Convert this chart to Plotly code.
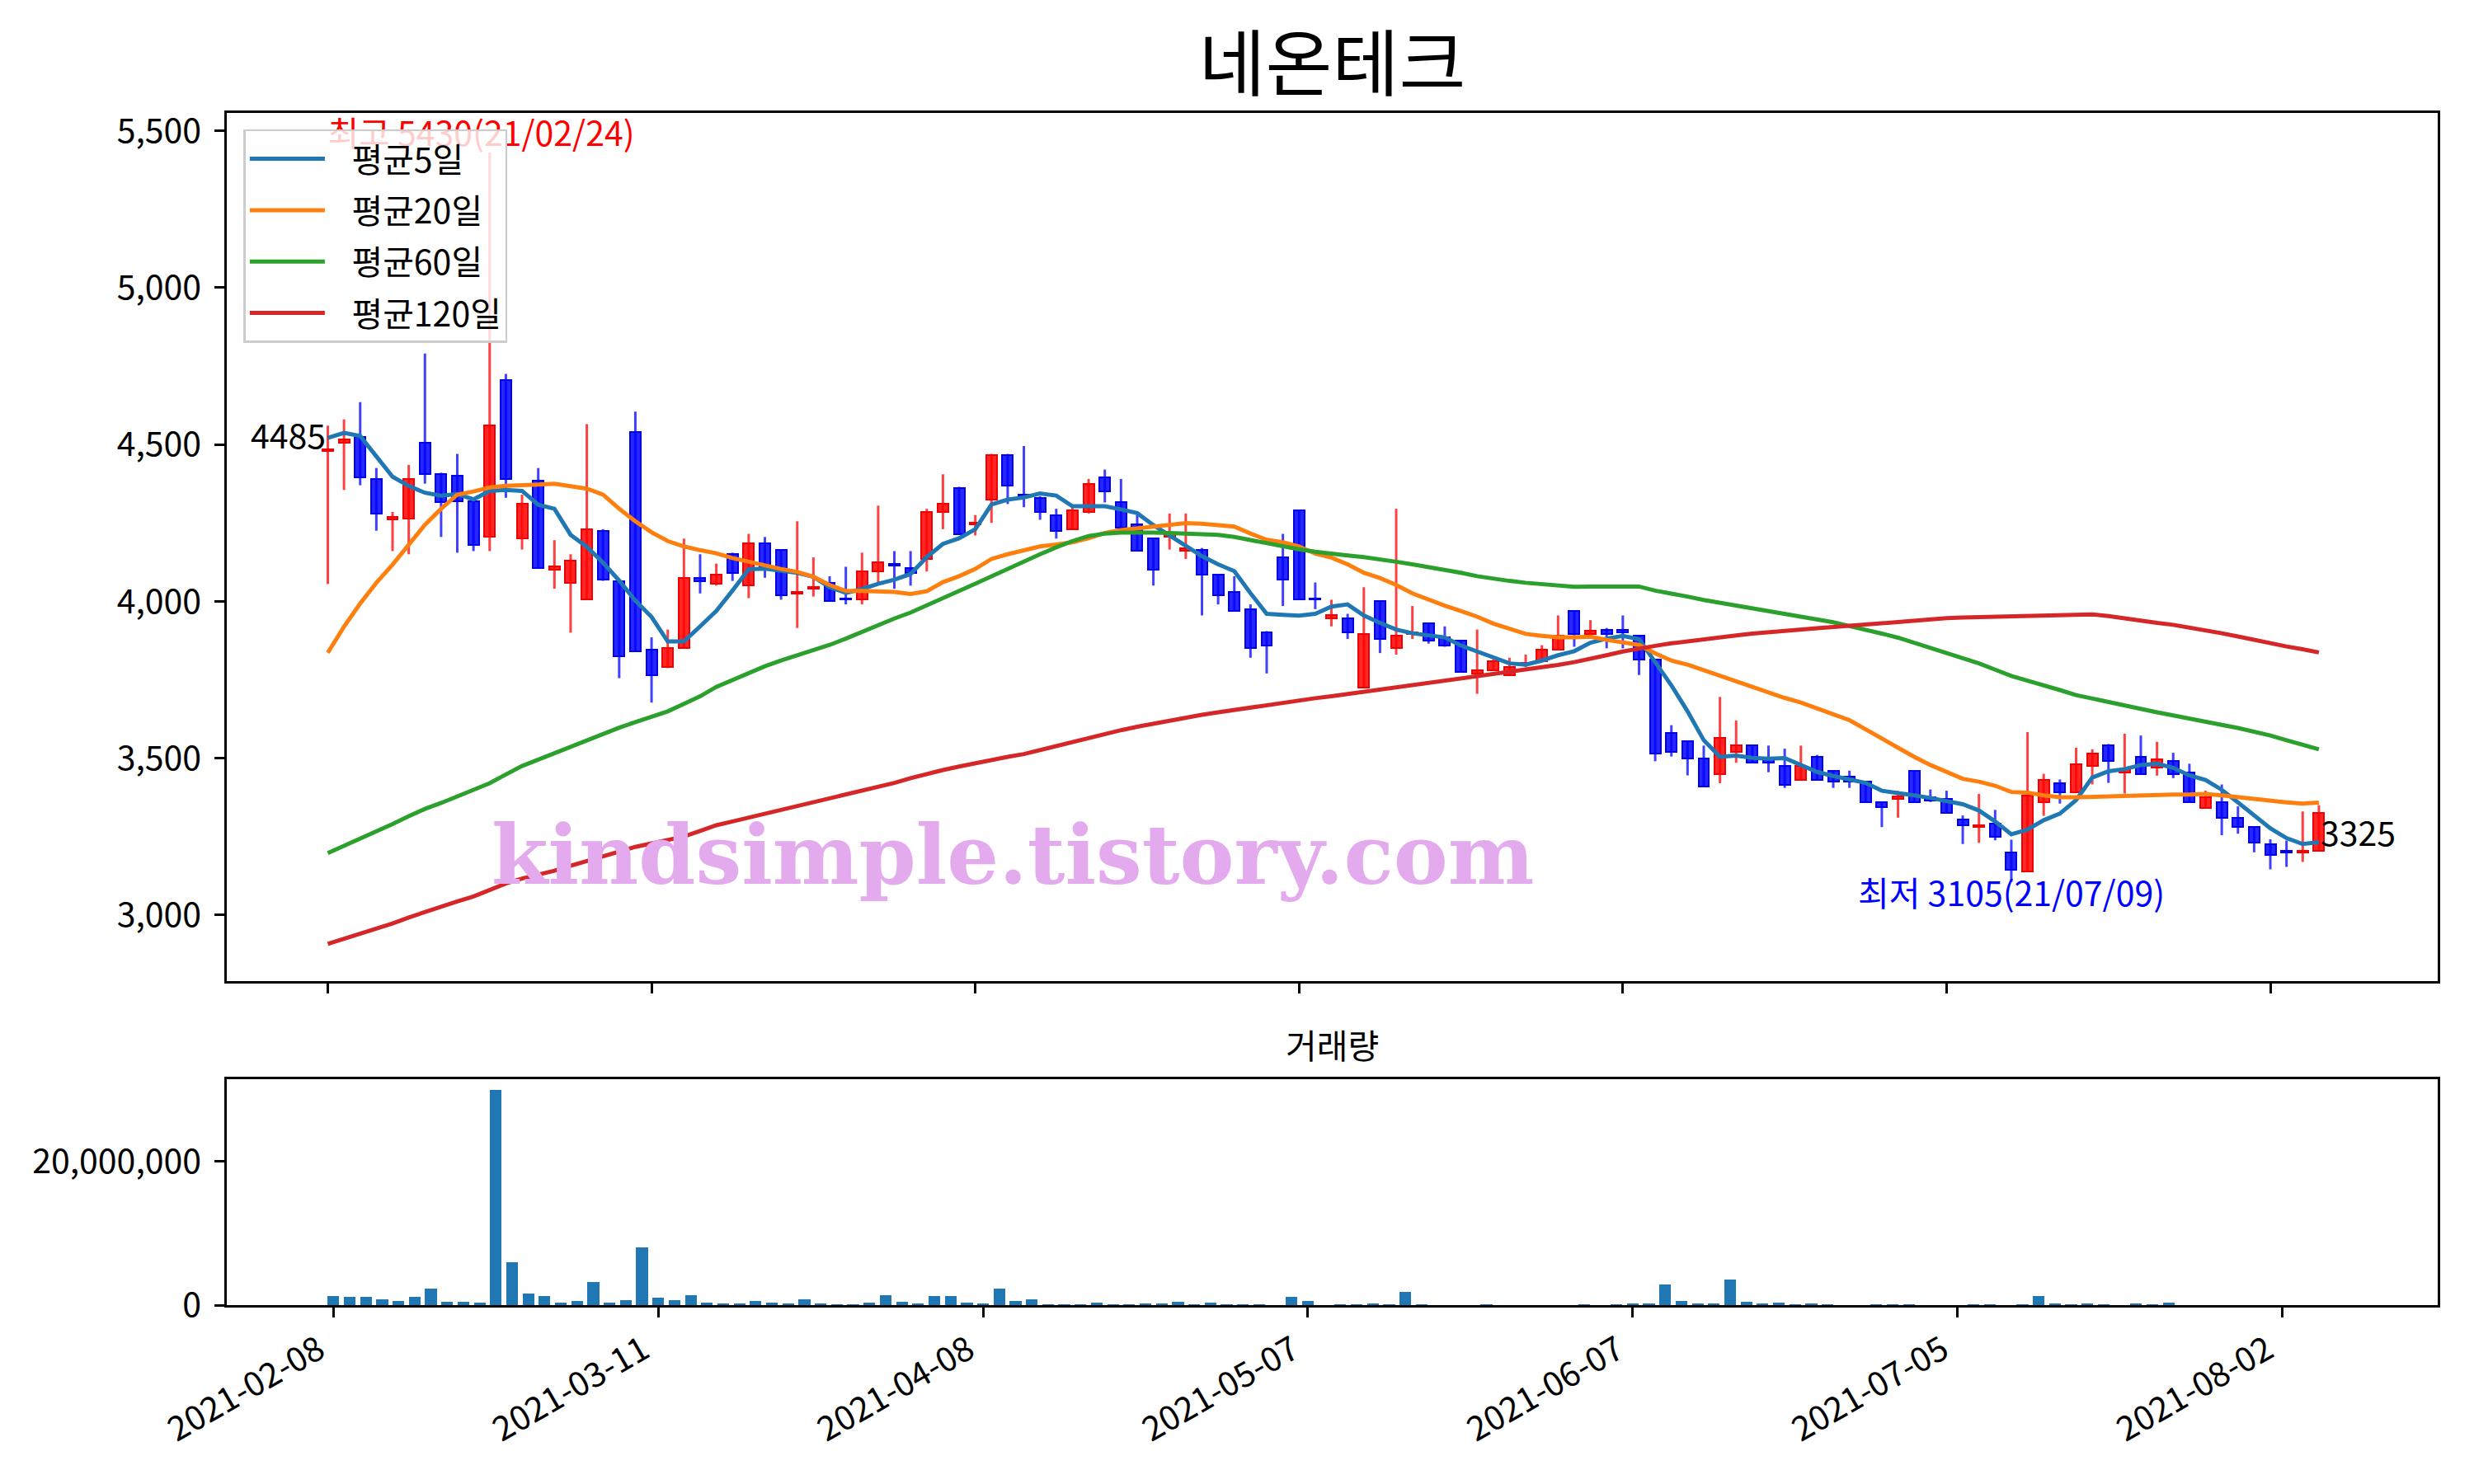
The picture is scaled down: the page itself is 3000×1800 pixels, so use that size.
import plotly.graph_objects as go

# trading-day index 0..123 (2021-02-08 .. 2021-08-05)
tick_pos = [0, 20, 40, 60, 80, 100, 120]
tick_dates = ["2021-02-08", "2021-03-11", "2021-04-08", "2021-05-07",
              "2021-06-07", "2021-07-05", "2021-08-02"]

opens = [4480, 4505, 4525, 4390, 4260, 4265, 4505, 4405, 4400, 4320,
         4205, 4705, 4200, 4385, 4100, 4060, 4005, 4225, 4065, 4540,
         3845, 3790, 3850, 4075, 4055, 4150, 4050, 4185, 4165, 4025,
         4040, 4060, 4010, 4005, 4095, 4120, 4105, 4135, 4285, 4360,
         4245, 4325, 4465, 4340, 4330, 4275, 4230, 4285, 4395, 4315,
         4245, 4200, 4205, 4160, 4165, 4085, 4030, 3975, 3900, 4140,
         4290, 4010, 3945, 3945, 3725, 4000, 3850, 3895, 3930, 3885,
         3875, 3770, 3780, 3765, 3800, 3810, 3845, 3970, 3895, 3910,
         3910, 3890, 3815, 3580, 3555, 3500, 3450, 3520, 3540, 3495,
         3475, 3430, 3505, 3460, 3440, 3425, 3360, 3370, 3460, 3375,
         3370, 3305, 3280, 3290, 3200, 3140, 3360, 3420, 3390, 3475,
         3540, 3455, 3505, 3470, 3490, 3455, 3340, 3360, 3310, 3280,
         3225, 3205, 3200, 3205]
highs = [4560, 4580, 4635, 4425, 4285, 4435, 4790, 4410, 4470, 4325,
         5430, 4725, 4340, 4425, 4195, 4150, 4565, 4230, 4065, 4605,
         3885, 3910, 4200, 4150, 4120, 4155, 4215, 4205, 4165, 4255,
         4140, 4080, 4110, 4155, 4305, 4160, 4160, 4295, 4405, 4365,
         4275, 4470, 4470, 4495, 4335, 4295, 4300, 4390, 4420, 4390,
         4275, 4200, 4280, 4280, 4170, 4085, 4080, 3990, 3905, 4215,
         4290, 4060, 4005, 3960, 4045, 4000, 4295, 3985, 3930, 3920,
         3875, 3910, 3815, 3820, 3830, 3860, 3955, 3970, 3940, 3915,
         3955, 3890, 3815, 3605, 3555, 3540, 3695, 3620, 3540, 3540,
         3530, 3540, 3510, 3460, 3460, 3425, 3360, 3395, 3460, 3400,
         3396, 3317, 3386, 3335, 3240, 3583, 3450, 3432, 3533, 3528,
         3545, 3578, 3572, 3552, 3517, 3482, 3396, 3416, 3346, 3280,
         3241, 3237, 3330, 3350]
lows = [4055, 4355, 4370, 4225, 4160, 4150, 4375, 4205, 4155, 4160,
        4160, 4330, 4165, 4105, 4040, 3900, 4005, 4065, 3755, 3840,
        3677, 3787, 3850, 4025, 4050, 4065, 4010, 4075, 4005, 3915,
        4015, 4000, 3990, 3990, 4060, 4040, 4050, 4095, 4230, 4215,
        4210, 4250, 4310, 4300, 4260, 4200, 4230, 4280, 4315, 4235,
        4160, 4050, 4165, 4135, 3955, 3990, 3970, 3820, 3770, 3985,
        4005, 3975, 3920, 3880, 3725, 3835, 3830, 3880, 3865, 3855,
        3775, 3705, 3778, 3765, 3790, 3810, 3845, 3855, 3895, 3850,
        3850, 3765, 3490, 3505, 3445, 3410, 3420, 3485, 3485, 3455,
        3405, 3430, 3430, 3405, 3405, 3360, 3280, 3310, 3360, 3360,
        3325, 3226, 3230, 3238, 3105, 3140, 3316, 3355, 3390, 3416,
        3421, 3387, 3450, 3444, 3436, 3360, 3340, 3254, 3259, 3200,
        3145, 3153, 3169, 3205]
closes = [4485, 4515, 4395, 4280, 4270, 4390, 4405, 4315, 4320, 4180,
          4560, 4390, 4310, 4105, 4110, 4130, 4230, 4070, 3825, 3840,
          3765, 3850, 4075, 4065, 4085, 4090, 4185, 4105, 4020, 4030,
          4045, 4000, 4005, 4095, 4125, 4115, 4090, 4285, 4310, 4215,
          4250, 4465, 4370, 4335, 4285, 4225, 4290, 4375, 4350, 4235,
          4160, 4100, 4215, 4170, 4085, 4020, 3970, 3850, 3860, 4070,
          4005, 4005, 3955, 3900, 3895, 3880, 3890, 3900, 3875, 3860,
          3775, 3780, 3810, 3790, 3805, 3845, 3890, 3895, 3905, 3895,
          3900, 3815, 3515, 3520, 3500, 3410, 3565, 3540, 3485, 3485,
          3415, 3475, 3430, 3425, 3425, 3360, 3345, 3378, 3360, 3365,
          3325, 3285, 3285, 3250, 3145, 3380, 3430, 3390, 3480, 3515,
          3490, 3465, 3450, 3495, 3450, 3360, 3375, 3310, 3280, 3230,
          3190, 3200, 3205, 3325]

ma5 = [4521, 4537, 4527, 4461, 4397, 4368, 4346, 4337, 4342, 4325,
       4352, 4355, 4352, 4308, 4295, 4212, 4174, 4123, 4066, 4002,
       3950, 3872, 3872, 3920, 3969, 4034, 4102, 4104, 4098, 4091,
       4078, 4045, 4027, 4039, 4056, 4069, 4087, 4141, 4183, 4201,
       4230, 4309, 4324, 4331, 4344, 4337, 4303, 4302, 4303, 4293,
       4281, 4243, 4211, 4179, 4144, 4118, 4096, 4026, 3960, 3957,
       3954, 3960, 3983, 3990, 3955, 3931, 3910, 3898, 3892, 3885,
       3859, 3840, 3822, 3802, 3798, 3811, 3828, 3841, 3868, 3881,
       3890, 3879, 3806, 3732, 3649, 3557, 3504, 3508, 3501, 3498,
       3500, 3478, 3456, 3443, 3432, 3421, 3396, 3390, 3381, 3373,
       3364, 3353, 3333, 3298, 3257, 3272, 3302, 3323, 3366, 3438,
       3458, 3465, 3478, 3482, 3469, 3445, 3430, 3399, 3359, 3316,
       3276, 3245, 3226, 3232]
ma20 = [3836, 3919, 3993, 4059, 4117, 4180, 4244, 4295, 4340, 4350,
        4363, 4368, 4369, 4372, 4375, 4368, 4359, 4340, 4295, 4255,
        4220, 4192, 4175, 4163, 4153, 4138, 4126, 4115, 4103, 4094,
        4078, 4052, 4033, 4033, 4032, 4030, 4023, 4032, 4061, 4080,
        4103, 4135, 4150, 4164, 4175, 4181, 4188, 4201, 4218, 4227,
        4233, 4238, 4246, 4249, 4247, 4243, 4238, 4216, 4196, 4188,
        4175, 4152, 4139, 4118, 4091, 4074, 4052, 4025, 4004, 3986,
        3969, 3951, 3929, 3912, 3896, 3890, 3885, 3885, 3887, 3877,
        3869, 3861, 3834, 3811, 3798, 3780, 3764, 3745, 3727, 3710,
        3692, 3677, 3657, 3640, 3621, 3592, 3561, 3533, 3504, 3478,
        3455, 3434, 3425, 3412, 3392, 3390, 3381, 3375, 3375, 3377,
        3379, 3379, 3380, 3383, 3384, 3384, 3386, 3381, 3375, 3370,
        3364, 3359, 3355, 3358]
ma60 = [3197, 3220, 3243, 3265, 3290, 3315, 3338, 3357, 3378, 3396,
        3420, 3448, 3475, 3495, 3516, 3537, 3558, 3578, 3597, 3615,
        3633, 3649, 3673, 3697, 3727, 3749, 3771, 3793, 3811, 3828,
        3843, 3861, 3881, 3903, 3925, 3945, 3964, 3986, 4010, 4033,
        4056, 4080, 4104, 4126, 4150, 4172, 4192, 4208, 4216, 4219,
        4220, 4219, 4218, 4217, 4216, 4212, 4205, 4195, 4183, 4174,
        4166, 4158, 4151, 4146, 4141, 4135, 4126, 4118, 4109, 4102,
        4091, 4080, 4071, 4065, 4059, 4054, 4049, 4046, 4047, 4047,
        4049, 4047, 4034, 4026, 4015, 4004, 3995, 3986, 3977, 3969,
        3960, 3953, 3944, 3933, 3921, 3910, 3897, 3884, 3868, 3853,
        3836, 3819, 3802, 3782, 3762, 3747, 3733, 3717, 3701, 3690,
        3677, 3665, 3655, 3646, 3636, 3625, 3615, 3606, 3596, 3585,
        3572, 3557, 3542, 3528]
ma120 = [2908, 2924, 2940, 2956, 2973, 2992, 3010, 3027, 3043, 3059,
         3079, 3100, 3116, 3127, 3141, 3157, 3172, 3187, 3203, 3217,
         3228, 3240, 3250, 3268, 3286, 3298, 3310, 3322, 3335, 3347,
         3360, 3372, 3384, 3397, 3409, 3421, 3436, 3450, 3462, 3473,
         3484, 3494, 3504, 3513, 3526, 3538, 3551, 3566, 3578, 3589,
         3600, 3610, 3620, 3630, 3638, 3646, 3654, 3662, 3669, 3676,
         3684, 3691, 3697, 3704, 3711, 3719, 3726, 3732, 3738, 3745,
         3752, 3759, 3766, 3773, 3781, 3789, 3797, 3806, 3816, 3828,
         3840, 3850, 3858, 3866, 3873, 3879, 3885, 3891, 3897, 3902,
         3906, 3910, 3914, 3918, 3922, 3926, 3931, 3935, 3940, 3943,
         3946, 3948, 3949, 3950, 3951, 3953, 3955, 3957, 3958, 3958,
         3953, 3945, 3937, 3931, 3925, 3917, 3908, 3898, 3888, 3877,
         3865, 3856, 3847, 3837]

volume = [1260000, 1150000, 1150000, 800000, 570000, 1150000, 2290000, 460000, 460000, 340000,
          29940000, 5970000, 1610000, 1260000, 340000, 570000, 3210000, 340000, 690000, 8030000,
          1030000, 690000, 1380000, 340000, 230000, 230000, 570000, 340000, 230000, 800000,
          230000, 110000, 110000, 340000, 1380000, 460000, 230000, 1260000, 1260000, 340000,
          230000, 2290000, 570000, 800000, 110000, 110000, 110000, 340000, 110000, 110000,
          230000, 230000, 460000, 110000, 340000, 110000, 110000, 110000, 0, 1150000,
          570000, 0, 110000, 110000, 230000, 110000, 1840000, 110000, 0, 0,
          0, 110000, 0, 0, 0, 0, 0, 110000, 0, 110000,
          230000, 230000, 2870000, 570000, 230000, 230000, 3560000, 460000, 230000, 340000,
          110000, 230000, 110000, 0, 0, 110000, 110000, 110000, 0, 0,
          0, 110000, 110000, 0, 110000, 1260000, 230000, 110000, 230000, 110000,
          0, 230000, 110000, 340000, 0, 0, 0, 0, 0, 0,
          0, 0, 0, 0]

FONT = "Noto Sans CJK KR"
idx = list(range(len(closes)))
up = [i for i in idx if closes[i] >= opens[i]]
down = [i for i in idx if closes[i] < opens[i]]

fig = go.Figure()

# max label sits under the legend, so it is a text trace (traces draw below the legend)
fig.add_trace(go.Scatter(x=[0], y=[5480], mode="text", text=["최고 5430(21/02/24)"],
                         textposition="middle right", cliponaxis=False, showlegend=False,
                         textfont=dict(family=FONT, size=41, color="red"), hoverinfo="skip"))

# wicks
for sel, col in ((up, "rgba(255,0,0,0.75)"), (down, "rgba(0,0,255,0.75)")):
    wx, wy = [], []
    for i in sel:
        wx += [i, i, None]
        wy += [lows[i], highs[i], None]
    fig.add_trace(go.Scatter(x=wx, y=wy, mode="lines", line=dict(color=col, width=3),
                             showlegend=False, hoverinfo="skip"))

# bodies
for sel, fill, edge in ((up, "rgba(255,0,0,0.85)", "rgb(240,0,0)"),
                        (down, "rgba(0,0,255,0.85)", "rgb(0,0,235)")):
    fig.add_trace(go.Bar(
        x=sel, y=[abs(closes[i] - opens[i]) for i in sel],
        base=[min(opens[i], closes[i]) for i in sel],
        width=0.66, marker=dict(color=fill, line=dict(color=edge, width=2)),
        showlegend=False,
    ))

for name, vals, col in (("평균5일", ma5, "#1f77b4"), ("평균20일", ma20, "#ff7f0e"),
                        ("평균60일", ma60, "#2ca02c"), ("평균120일", ma120, "#d62728")):
    fig.add_trace(go.Scatter(x=idx, y=vals, mode="lines", name="&nbsp;&nbsp;&nbsp;" + name,
                             legendgroup=name, line=dict(color=col, width=5)))

fig.add_trace(go.Bar(x=idx, y=volume, width=0.72, marker=dict(color="#1f77b4", line=dict(width=0)),
                     xaxis="x2", yaxis="y2", showlegend=False))

axis_common = dict(showline=True, mirror=True, linecolor="black", linewidth=2.5,
                   ticks="outside", ticklen=12, tickwidth=2.5, tickcolor="black",
                   showgrid=False, zeroline=False, automargin=False,
                   tickfont=dict(family=FONT, size=41, color="black"))

# the page body has an 8px default margin, so the margins are shifted by 8px
fig.update_layout(
    width=3000, height=1800, autosize=False,
    margin=dict(l=267, r=52, t=129, b=225),
    paper_bgcolor="white", plot_bgcolor="white",
    barmode="overlay", bargap=0,
    font=dict(family=FONT, color="black"),
    title=dict(text="네온테크", x=0.5, xref="paper", y=0.961, yanchor="middle",
               font=dict(family=FONT, size=88, color="black")),
    xaxis=dict(domain=[0, 1], anchor="y", range=[-6.24, 130.34],
               tickvals=tick_pos, showticklabels=False, **axis_common),
    yaxis=dict(domain=[0.2715, 1], anchor="x", range=[2788, 5557], ticklabelstandoff=8,
               tickvals=[3000, 3500, 4000, 4500, 5000, 5500], tickformat=",", **axis_common),
    xaxis2=dict(domain=[0, 1], anchor="y2", range=[-6.57, 129.57], ticklabelshift=-18,
                tickvals=tick_pos, ticktext=tick_dates, tickangle=-30, **axis_common),
    yaxis2=dict(domain=[0, 0.1897], anchor="x2", range=[0, 31450000], ticklabelstandoff=8,
                tickvals=[0, 20000000], tickformat=",", **axis_common),
    legend=dict(x=0.0076, y=0.9862, xanchor="left", yanchor="top",
                bgcolor="rgba(255,255,255,0.8)", bordercolor="#cccccc", borderwidth=2.5,
                font=dict(family=FONT, size=41, color="black"),
                traceorder="grouped", tracegroupgap=6, itemwidth=91),
)

fig.add_annotation(x=42.3, y=3190, xref="x", yref="y", text="<b>kindsimple.tistory.com</b>",
                   showarrow=False, xanchor="center", yanchor="middle",
                   font=dict(family="DejaVu Serif", size=99, color="rgb(228,170,238)"))
fig.add_annotation(x=104, y=3075, xref="x", yref="y", text="최저 3105(21/07/09)",
                   showarrow=False, xanchor="center", yanchor="middle",
                   font=dict(family=FONT, size=41, color="blue"))
fig.add_annotation(x=0, y=4534, xref="x", yref="y", text="4485",
                   showarrow=False, xanchor="right", yanchor="middle",
                   font=dict(family=FONT, size=41, color="black"))
fig.add_annotation(x=123, y=3267, xref="x", yref="y", text="3325",
                   showarrow=False, xanchor="left", yanchor="middle",
                   font=dict(family=FONT, size=41, color="black"))
fig.add_annotation(x=0.5, y=0.2189, xref="paper", yref="paper", text="거래량",
                   showarrow=False, xanchor="center", yanchor="middle",
                   font=dict(family=FONT, size=41, color="black"))

fig.write_html("out.html")
